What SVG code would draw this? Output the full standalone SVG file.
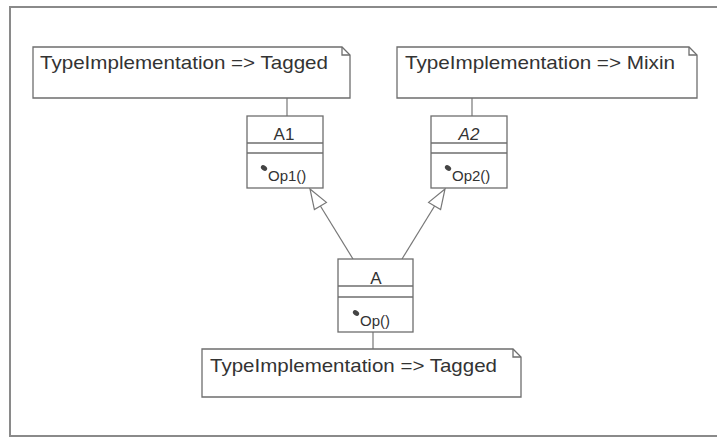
<svg xmlns="http://www.w3.org/2000/svg" width="717" height="438" viewBox="0 0 717 438">
<style>
.frame{fill:none;stroke:#8a8a8a;stroke-width:2}
.box{fill:#fff;stroke:#6e6e6e;stroke-width:1.3}
.ln{fill:none;stroke:#6e6e6e;stroke-width:1.3}
.conn{fill:none;stroke:#777;stroke-width:1.2}
.head{fill:#fff;stroke:#777;stroke-width:1.2}
.nt{font-family:"Liberation Sans",Arial,sans-serif;font-size:19px;fill:#333}
.cn{font-family:"Liberation Sans",Arial,sans-serif;font-size:17px;fill:#333;text-anchor:middle}
.op{font-family:"Liberation Sans",Arial,sans-serif;font-size:15px;fill:#333}
.ic{fill:#444}
</style>
<rect width="717" height="438" fill="#fff"/>
<path class="frame" d="M720,7 H10 V436 H720"/>
<g id="connectors">
<line class="conn" x1="287" y1="98" x2="287" y2="116"/>
<line class="conn" x1="472" y1="98" x2="472" y2="116"/>
<line class="conn" x1="373" y1="332" x2="373" y2="349"/>
<line class="conn" x1="353" y1="259" x2="320.4" y2="206"/>
<polygon class="head" points="310,189 326.4,202.4 314.4,209.6"/>
<line class="conn" x1="402" y1="259" x2="434.6" y2="206"/>
<polygon class="head" points="445,189 428.6,202.4 440.6,209.6"/>
</g>
<g id="note1">
<path class="box" d="M33,47 H342 L350,55 V98 H33 Z"/>
<path class="ln" d="M342,47 V55 H350"/>
<text class="nt" x="40" y="69" textLength="288" lengthAdjust="spacingAndGlyphs">TypeImplementation =&gt; Tagged</text>
</g>
<g id="note2">
<path class="box" d="M397,47 H689 L697,55 V98 H397 Z"/>
<path class="ln" d="M689,47 V55 H697"/>
<text class="nt" x="405" y="69" textLength="270" lengthAdjust="spacingAndGlyphs">TypeImplementation =&gt; Mixin</text>
</g>
<g id="note3">
<path class="box" d="M202,349 H513 L521,357 V397 H202 Z"/>
<path class="ln" d="M513,349 V357 H521"/>
<text class="nt" x="210" y="372" textLength="287" lengthAdjust="spacingAndGlyphs">TypeImplementation =&gt; Tagged</text>
</g>
<g id="A1">
<rect class="box" x="247" y="116" width="76" height="72"/>
<line class="ln" x1="247" y1="143" x2="323" y2="143"/>
<line class="ln" x1="247" y1="153" x2="323" y2="153"/>
<text class="cn" x="284" y="140">A1</text>
<ellipse class="ic" cx="264" cy="168" rx="3.4" ry="2.4" transform="rotate(35 264 168)"/>
<text class="op" x="268" y="181">Op1()</text>
</g>
<g id="A2">
<rect class="box" x="431" y="116" width="76" height="72"/>
<line class="ln" x1="431" y1="143" x2="507" y2="143"/>
<line class="ln" x1="431" y1="153" x2="507" y2="153"/>
<text class="cn" x="469" y="140" font-style="italic">A2</text>
<ellipse class="ic" cx="448" cy="168" rx="3.4" ry="2.4" transform="rotate(35 448 168)"/>
<text class="op" x="452" y="181">Op2()</text>
</g>
<g id="A">
<rect class="box" x="338" y="259" width="75" height="73"/>
<line class="ln" x1="338" y1="286" x2="413" y2="286"/>
<line class="ln" x1="338" y1="297" x2="413" y2="297"/>
<text class="cn" x="376" y="284">A</text>
<ellipse class="ic" cx="356" cy="313" rx="3.4" ry="2.4" transform="rotate(35 356 313)"/>
<text class="op" x="360" y="326">Op()</text>
</g>
</svg>
